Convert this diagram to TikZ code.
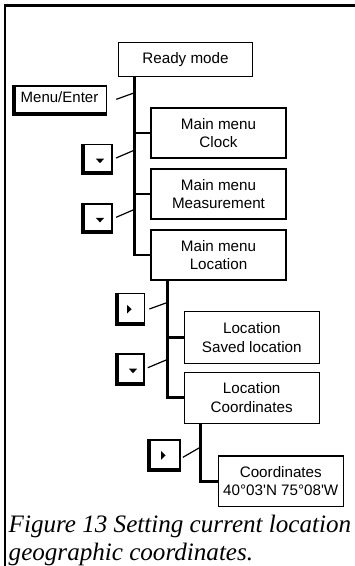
\documentclass[tikz,border=0pt]{standalone}
\usepackage{fontspec}
\setmainfont{Liberation Serif}
\newfontfamily\boxfont{Liberation Sans}[Ligatures=TeXOff]
\usetikzlibrary{calc}
\newcommand{\mykeyL}[1]{\draw[line width=4pt] ([xshift=2pt]#1.north west) -- ([xshift=2pt,yshift=2pt]#1.south west) -- ([yshift=2pt]#1.south east);}
\newcommand{\mydowntri}[1]{\fill ($(#1.center)+(-1.2,-0.8)$) -- ($(#1.center)+(7.2,-0.8)$) -- ($(#1.center)+(3,3.6)$) -- cycle;}
\newcommand{\myrighttri}[1]{\fill ($(#1.center)+(-2.8,-4.3)$) -- ($(#1.center)+(-2.8,4.1)$) -- ($(#1.center)+(1.6,-0.1)$) -- cycle;}
\begin{document}
\begin{tikzpicture}[x=1pt,y=-1pt,
  box/.style={draw, line width=1.2pt, inner sep=0pt, align=center,
    font=\boxfont\fontsize{15.2}{18.5}\selectfont},
  key/.style={draw, line width=1.2pt, fill=white, inner sep=0pt},
  trunk/.style={line width=2.7pt},
  conn/.style={line width=1.2pt},
  captext/.style={anchor=base west, inner sep=0pt, font=\itshape\fontsize{25.1}{30}\selectfont}]
\useasboundingbox (0,0) rectangle (355,566);
\draw[line width=2.2pt] (5,570) -- (5,5.5) -- (360,5.5);

% menu boxes
\node[box, minimum width=134.4pt, minimum height=34.4pt] (ready) at (185.5,59.5) {Ready mode};
\node[box, minimum width=135pt, minimum height=50pt] (clock) at (218.5,133) {Main menu\\Clock};
\node[box, minimum width=135pt, minimum height=50pt] (meas) at (218.5,194) {Main menu\\Measurement};
\node[box, minimum width=135pt, minimum height=50pt] (loc) at (218.5,255) {Main menu\\Location};
\node[box, minimum width=135pt, minimum height=51.6pt] (saved) at (251.8,337.5) {Location\\Saved location};
\node[box, minimum width=135pt, minimum height=51pt] (lcoord) at (251.7,397.8) {Location\\Coordinates};
\node[box, minimum width=125pt, minimum height=50.7pt] (coord) at (280.8,481.3) {Coordinates\\40°03'N 75°08'W};

% keys
\node[key, minimum width=94.4pt, minimum height=29pt, text height=10.7pt, text depth=7pt,
  font=\boxfont\fontsize{15}{18}\selectfont] (menu) at (59.5,100.5) {Menu/Enter};
\node[key, minimum width=30pt, minimum height=30pt] (d1) at (97,159.5) {};
\node[key, minimum width=30pt, minimum height=29.5pt] (d2) at (97,218.7) {};
\node[key, minimum width=29pt, minimum height=31.5pt] (r1) at (130,309.3) {};
\node[key, minimum width=28pt, minimum height=31pt] (d3) at (130,369.5) {};
\node[key, minimum width=32pt, minimum height=31pt] (r2) at (164,455.5) {};
\mykeyL{menu}\mykeyL{d1}\mykeyL{d2}\mykeyL{r1}\mykeyL{d3}\mykeyL{r2}
\mydowntri{d1}\mydowntri{d2}\mydowntri{d3}
\myrighttri{r1}\myrighttri{r2}

% trunks
\coordinate (t1) at (134.7,0);
\coordinate (t2) at (167.8,0);
\coordinate (t3) at (200.2,0);
\draw[trunk] (ready.south -| t1) |- (loc.west);
\draw[trunk] (clock.west -| t1) -- (clock.west);
\draw[trunk] (meas.west -| t1) -- (meas.west);
\draw[trunk] (loc.south -| t2) |- (lcoord.west);
\draw[trunk] (saved.west -| t2) -- (saved.west);
\draw[trunk] (lcoord.south -| t3) |- (coord.west);

% key connectors
\coordinate (cm) at (134.7,92.7);
\coordinate (c1) at (134.7,150);
\coordinate (c2) at (134.7,209.3);
\coordinate (c3) at (167.8,302.3);
\coordinate (c4) at (167.8,359.3);
\coordinate (c5) at (200.2,447.3);
\draw[conn] ([xshift=9pt,yshift=1.2pt]menu.east) -- (cm);
\draw[conn] ([xshift=3.5pt,yshift=1.5pt]d1.east) -- (c1);
\draw[conn] ([xshift=3.5pt,yshift=1.4pt]d2.east) -- (c2);
\draw[conn] ([xshift=4.3pt,yshift=0.3pt]r1.east) -- (c3);
\draw[conn] ([xshift=3.2pt,yshift=1.8pt]d3.east) -- (c4);
\draw[conn] ([xshift=2.3pt,yshift=-1.8pt]r2.east) -- (c5);

% caption
\node[captext] (cap1) at (8.5,532.5) {Figure 13 Setting current location};
\node[captext] (cap2) at (8.5,560) {geographic coordinates.};
\end{tikzpicture}
\end{document}
